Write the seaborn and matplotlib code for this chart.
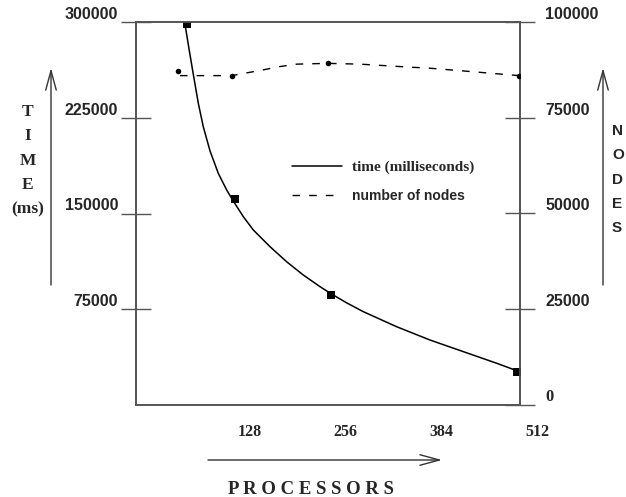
import numpy as np
import pandas as pd
import seaborn as sns
import matplotlib.pyplot as plt
from matplotlib.lines import Line2D
from matplotlib.transforms import ScaledTranslation

# values
time_curve_proc = [65.5, 71.5, 76.8, 83.5, 90.1, 99.1, 110.1, 121.3, 130.1, 143.5, 156.8,
                   179.1, 201.3, 223.5, 245.7, 261.3, 281.3, 303.5, 348, 392.4, 436.8,
                   481.3, 505.7]
time_curve_ms = [299000, 277500, 259000, 236300, 218000, 199000, 181500, 168400, 159800,
                 147500, 137100, 124000, 112200, 101800, 92700, 86900, 80000, 73100,
                 61300, 50900, 41800, 32700, 27400]
time_mark_proc = [68, 132.4, 260, 508]
time_mark_ms = [298400, 161400, 86400, 25600]

nodes_curve_proc = [59, 128, 170, 190, 215, 256, 299, 366, 388, 432, 511]
nodes_curve_n = [86000, 86000, 87500, 88300, 89000, 89200, 89000, 88200, 88000, 87300, 86000]
nodes_mark_proc = [56, 128, 256, 511]
nodes_mark_n = [87200, 86000, 89200, 86000]

x_ticks = [128, 256, 384, 512]
left_ticks = [75000, 150000, 225000, 300000]
right_ticks = [0, 25000, 50000, 75000, 100000]

SANS = 'Liberation Sans'
SERIF = 'Liberation Serif'
GREY = '#555555'

sns.set_style('white')
plt.rcParams['font.family'] = [SANS, 'DejaVu Sans']

W, H = 626, 497
fig = plt.figure(figsize=(W / 100, H / 100), dpi=100)
ax = fig.add_axes([135.7 / W, 1 - 405 / H, 384 / W, 383 / H])
ax2 = ax.twinx()

df_tc = pd.DataFrame({'proc': time_curve_proc, 'ms': time_curve_ms})
df_tm = pd.DataFrame({'proc': time_mark_proc, 'ms': time_mark_ms})
df_nc = pd.DataFrame({'proc': nodes_curve_proc, 'n': nodes_curve_n})
df_nm = pd.DataFrame({'proc': nodes_mark_proc, 'n': nodes_mark_n})

# time curve (left axis) + square markers
sns.lineplot(data=df_tc, x='proc', y='ms', ax=ax, color='black', lw=1.1,
             sort=False, estimator=None)
sns.scatterplot(data=df_tm, x='proc', y='ms', ax=ax, color='black', marker='s',
                s=28, linewidth=0, zorder=5)
# nodes curve (right axis) + dots
sns.lineplot(data=df_nc, x='proc', y='n', ax=ax2, color='black', lw=1.0,
             linestyle=(0, (5.5, 6.5)), sort=False, estimator=None)
sns.scatterplot(data=df_nm, x='proc', y='n', ax=ax2, color='black', marker='o',
                s=16, linewidth=0, zorder=5)

ax.set_xlim(0, 512)
ax.set_ylim(0, 300000)
ax2.set_ylim(0, 100000)
for a in (ax, ax2):
    a.set_xlabel('')
    a.set_ylabel('')
    a.grid(False)
    for s in a.spines.values():
        s.set_color(GREY)
        s.set_linewidth(1.2)

ax.set_xticks(x_ticks)
ax.set_xticklabels([str(t) for t in x_ticks], fontfamily=SERIF, fontweight='bold', fontsize=11.5)
ax.set_yticks(left_ticks)
ax.set_yticklabels([str(t) for t in left_ticks], fontfamily=SANS, fontweight='bold', fontsize=11.5)
ax2.set_yticks(right_ticks)
ax2.set_yticklabels([str(t) for t in right_ticks], fontfamily=SANS, fontweight='bold', fontsize=11.5)
ax2.get_yticklabels()[0].set_fontfamily(SERIF)
ax2.get_yticklabels()[0].set_fontsize(12)

ax.tick_params(axis='x', direction='inout', length=21, width=1.0, color=GREY, pad=3)
ax.tick_params(axis='y', direction='inout', length=21, width=1.0, color=GREY, pad=2)
ax2.tick_params(axis='y', direction='inout', length=21, width=1.0, color=GREY, pad=8)
shift = ScaledTranslation(6 / 100, 0, fig.dpi_scale_trans)
for lab in ax.get_xticklabels():
    lab.set_ha('left')
    lab.set_transform(lab.get_transform() + shift)
for lab in ax.get_yticklabels() + ax2.get_yticklabels():
    lab.set_va('bottom')

# legend
handles = [Line2D([], [], color='black', lw=1.1),
           Line2D([], [], color='black', lw=1.0, linestyle=(0, (5.5, 6.5)))]
leg = ax.legend(handles, ['time (milliseconds)', 'number of nodes'],
                loc='upper left', bbox_to_anchor=(0.407, 0.639), frameon=False,
                borderpad=0, borderaxespad=0, handlelength=3.3, handletextpad=0.65,
                labelspacing=0.98, fontsize=11)
leg.get_texts()[0].set_fontfamily(SERIF)
leg.get_texts()[0].set_fontweight('bold')
leg.get_texts()[1].set_fontfamily(SANS)
leg.get_texts()[1].set_fontweight('bold')
leg.get_texts()[1].set_fontsize(10)

# stacked axis titles
for i, ch in enumerate(['T', 'I', 'M', 'E', '(ms)']):
    fig.text(28 / W, 1 - (112 + 24.4 * i) / H, ch, ha='center', va='center',
             fontfamily=SERIF, fontweight='bold', fontsize=12.5)
for i, ch in enumerate(['N', 'O', 'D', 'E', 'S']):
    fig.text(612 / W, 1 - (131 + 24.3 * i) / H, ch, ha='left', va='center',
             fontfamily=SANS, fontweight='bold', fontsize=11)
fig.text(311 / W, 1 - 490 / H, 'P R O C E S S O R S', ha='center', va='center',
         fontfamily=SERIF, fontweight='bold', fontsize=13.5)

arrow = dict(arrowstyle='->,head_length=1.4,head_width=0.38', lw=1.0, color='#333333',
             shrinkA=0, shrinkB=0, mutation_scale=10)
ax.annotate('', xy=(51, H - 68), xytext=(51, H - 285), xycoords='figure pixels',
            textcoords='figure pixels', arrowprops=arrow, annotation_clip=False)
ax.annotate('', xy=(603, H - 68), xytext=(603, H - 285), xycoords='figure pixels',
            textcoords='figure pixels', arrowprops=arrow, annotation_clip=False)
ax.annotate('', xy=(442, H - 460), xytext=(208, H - 460), xycoords='figure pixels',
            textcoords='figure pixels', arrowprops=arrow, annotation_clip=False)

fig.savefig('out.png', dpi=100)
